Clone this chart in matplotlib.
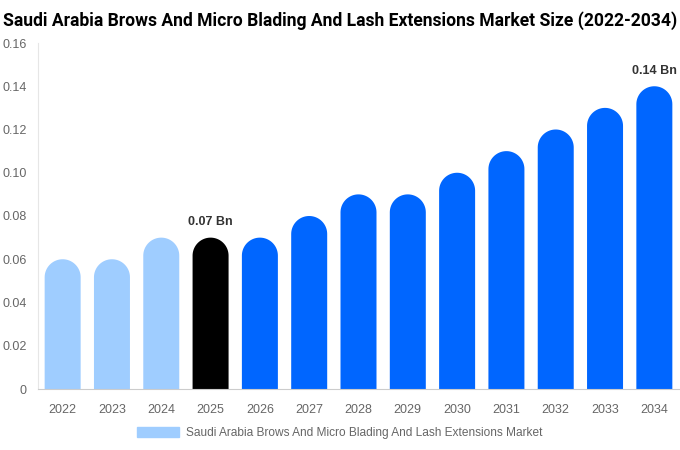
import matplotlib
matplotlib.use("Agg")
import numpy as np
from matplotlib import pyplot as plt
from matplotlib.patches import Polygon, Patch

years = ["2022", "2023", "2024", "2025", "2026", "2027", "2028",
         "2029", "2030", "2031", "2032", "2033", "2034"]
values = [0.06, 0.06, 0.07, 0.07, 0.07, 0.08, 0.09,
          0.09, 0.10, 0.11, 0.12, 0.13, 0.14]
colors = ["#9fcdff"] * 3 + ["#000000"] + ["#0066ff"] * 9
labelled = {3: "0.07 Bn", 12: "0.14 Bn"}
legend_label = "Saudi Arabia Brows And Micro Blading And Lash Extensions Market"
title = "Saudi Arabia Brows And Micro Blading And Lash Extensions Market Size (2022-2034)"

plt.rcParams['font.family'] = ["Liberation Sans", "DejaVu Sans"]

fig = plt.figure(figsize=(6.8, 4.5), dpi=100)
ax = fig.add_axes([38/680, 1 - 389/450, 641/680, 346/450])
ax.set_xlim(-0.5, len(years) - 0.5)
ax.set_ylim(0, 0.16)

width = 0.73
# round cap: half circle in pixels, converted to data units
px_per_x = 641 / len(years)
r_px = width * px_per_x / 2
rh = r_px * 0.16 / 346
theta = np.linspace(np.pi, 0, 40)

for i, (v, c) in enumerate(zip(values, colors)):
    x0, x1 = i - width / 2, i + width / 2
    arc = np.column_stack([i + width / 2 * np.cos(theta),
                           v - rh + rh * np.sin(theta)])
    pts = np.vstack([[x0, 0], arc, [x1, 0]])
    ax.add_patch(Polygon(pts, closed=True, facecolor=c, edgecolor="none"))
    if i in labelled:
        ax.text(i, v + 0.0045, labelled[i], ha="center", va="bottom",
                fontsize=9, fontweight="bold", color="#333333")

ax.set_xticks(range(len(years)))
ax.set_xticklabels(years)
ax.set_yticks([0, 0.02, 0.04, 0.06, 0.08, 0.10, 0.12, 0.14, 0.16])
ax.set_yticklabels(["0", "0.02", "0.04", "0.06", "0.08", "0.10", "0.12", "0.14", "0.16"])
ax.tick_params(axis="both", length=0, labelsize=9, colors="#666666")
ax.tick_params(axis="x", pad=11)
ax.tick_params(axis="y", pad=8)
for s in ["top", "right"]:
    ax.spines[s].set_visible(False)
ax.spines["left"].set_color("#e6e6e6")
ax.spines["bottom"].set_color("#cccccc")

fig.text(0.5, 0.955, title, ha="center", va="center", fontsize=12.65,
         fontweight="bold", family=["Roboto", "DejaVu Sans"], color="#000000")

handle = Patch(color="#9fcdff", label=legend_label)
fig.legend(handles=[handle], loc="center", bbox_to_anchor=(0.5, 0.038),
           frameon=False, fontsize=8.6, handlelength=3.5, handleheight=0.9,
           handletextpad=0.6, labelcolor="#666666")

fig.savefig("out.png", dpi=100)
